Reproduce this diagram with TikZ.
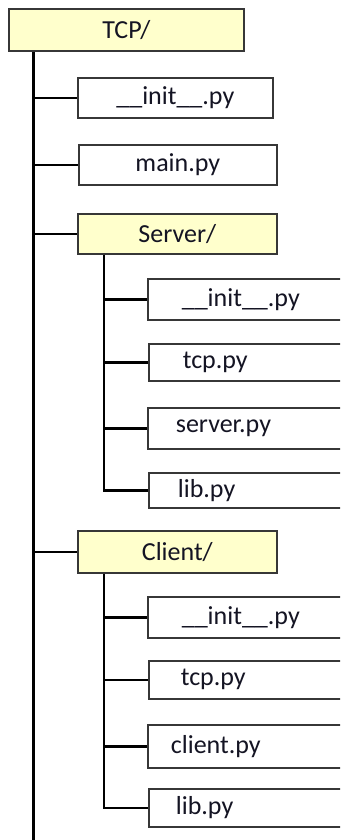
\documentclass[tikz,border=0pt]{standalone}
\usepackage{fontspec}
\setmainfont{Carlito}
\definecolor{dirfill}{RGB}{255,255,204}
\definecolor{boxline}{RGB}{55,55,55}
\definecolor{txt}{RGB}{20,20,35}
\begin{document}
\begin{tikzpicture}[x=1pt,y=-1pt,
  box/.style={draw=boxline, line width=1.7pt, fill=white, rectangle, anchor=north west,
    inner ysep=0pt, font=\fontsize{26}{31}\selectfont, text=txt},
  dirbox/.style={box, fill=dirfill, align=center},
  subbox/.style={box, align=left, text width=240pt},
  trunk/.style={line width=2.5pt, black},
]
\useasboundingbox (0,0) rectangle (340,840);
\clip (0,0) rectangle (340,840);
\fill[white] (0,0) rectangle (340,840);
% top level
\node[dirbox, minimum width=235pt, minimum height=42pt] (tcp) at (8,8) {TCP/};
\node[box, minimum width=195pt, minimum height=40pt] (init) at (77,77) {\_\_init\_\_.py};
\node[box, minimum width=198pt, minimum height=40pt] (main) at (78,144) {main.py};
\node[dirbox, minimum width=199pt, minimum height=40pt] (server) at (77,213) {Server/};
\node[dirbox, minimum width=199pt, minimum height=42pt] (client) at (77,530) {Client/};
% server children
\node[subbox, inner xsep=34pt, minimum height=41pt] (sinit) at (147,278) {\_\_init\_\_.py};
\node[subbox, inner xsep=34pt, minimum height=37pt] (stcp) at (148,343) {tcp.py};
\node[subbox, inner xsep=28pt, minimum height=41pt] (sserver) at (147,407) {server.py};
\node[subbox, inner xsep=29pt, minimum height=35pt] (slib) at (148,472) {lib.py};
% client children
\node[subbox, inner xsep=34pt, minimum height=41pt] (cinit) at (147,596) {\_\_init\_\_.py};
\node[subbox, inner xsep=32pt, minimum height=38pt] (ctcp) at (148,660) {tcp.py};
\node[subbox, inner xsep=23pt, minimum height=43pt] (cclient) at (147,724) {client.py};
\node[subbox, inner xsep=27pt, minimum height=38pt] (clib) at (148,788) {lib.py};
% trunks
\coordinate (tx) at (33.5,842);
\coordinate (sx) at (104,0);
\draw[trunk] (tx |- tcp.south) -- (tx);
\foreach \n in {init,main,server,client} \draw[trunk] (tx |- \n.west) -- (\n.west);
\draw[trunk] (sx |- server.south) -- (sx |- slib.west) -- (slib.west);
\foreach \n in {sinit,stcp,sserver} \draw[trunk] (sx |- \n.west) -- (\n.west);
\draw[trunk] (sx |- client.south) -- (sx |- clib.west) -- (clib.west);
\foreach \n in {cinit,ctcp,cclient} \draw[trunk] (sx |- \n.west) -- (\n.west);
\end{tikzpicture}
\end{document}
